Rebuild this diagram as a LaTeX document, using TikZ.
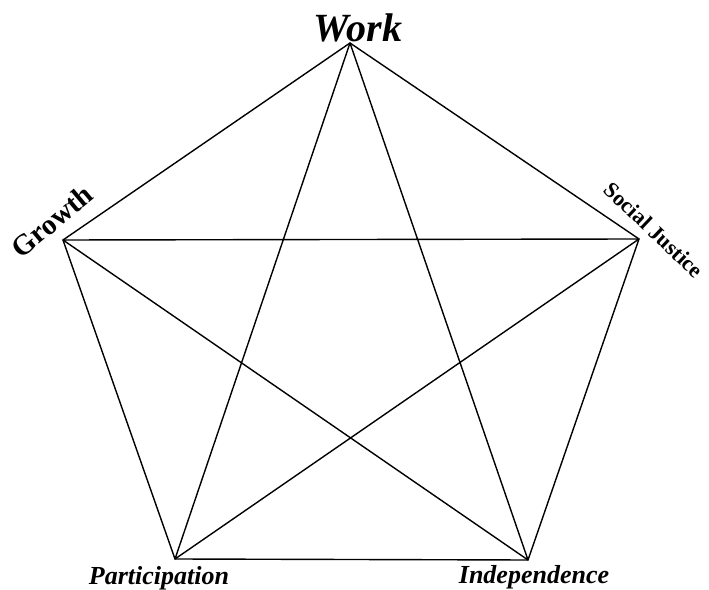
\documentclass[tikz,border=0pt]{standalone}
\usepackage{fontspec}
\setmainfont{Liberation Serif}
\usetikzlibrary{positioning}
\definecolor{ink}{HTML}{000000}

\begin{document}
\begin{tikzpicture}[x=1pt, y=1pt, text=ink,
    edge/.style={draw=ink, line width=1.4pt, line join=round},
    lab/.style={inner sep=0pt, font=\bfseries\itshape},
    tilt/.style={inner sep=0pt, font=\bfseries}]
  % canvas
  \useasboundingbox (0,0) rectangle (709,589);

  % ---------------- corners of the pentagon
  \coordinate (work) at (350,546);
  \coordinate (just) at (639,350);
  \coordinate (indep) at (528,29);
  \coordinate (part) at (175,30);
  \coordinate (grow) at (63,349);

  % ---------------- outline and star
  \draw[edge] (work) -- (just) -- (indep) -- (part) -- (grow) -- cycle;
  \draw[edge] (work) -- (indep) -- (grow) -- (just) -- (part) -- cycle;

  % ---------------- labels
  \node[lab, font=\fontsize{40}{40}\selectfont\bfseries\itshape] (workLab) at (358,561) {Work};
  \node[tilt, font=\fontsize{22}{22}\selectfont\bfseries, rotate=-43.5] (justLab) at (654,359) {Social Justice};
  \node[lab, font=\fontsize{26}{26}\selectfont\bfseries\itshape] (indepLab) at (534,12) {Independence};
  \node[lab, font=\fontsize{26}{26}\selectfont\bfseries\itshape] (partLab) at (159,11) {Participation};
  \node[tilt, font=\fontsize{29}{29}\selectfont\bfseries, rotate=40] (growLab) at (52,368) {Growth};
\end{tikzpicture}
\end{document}
